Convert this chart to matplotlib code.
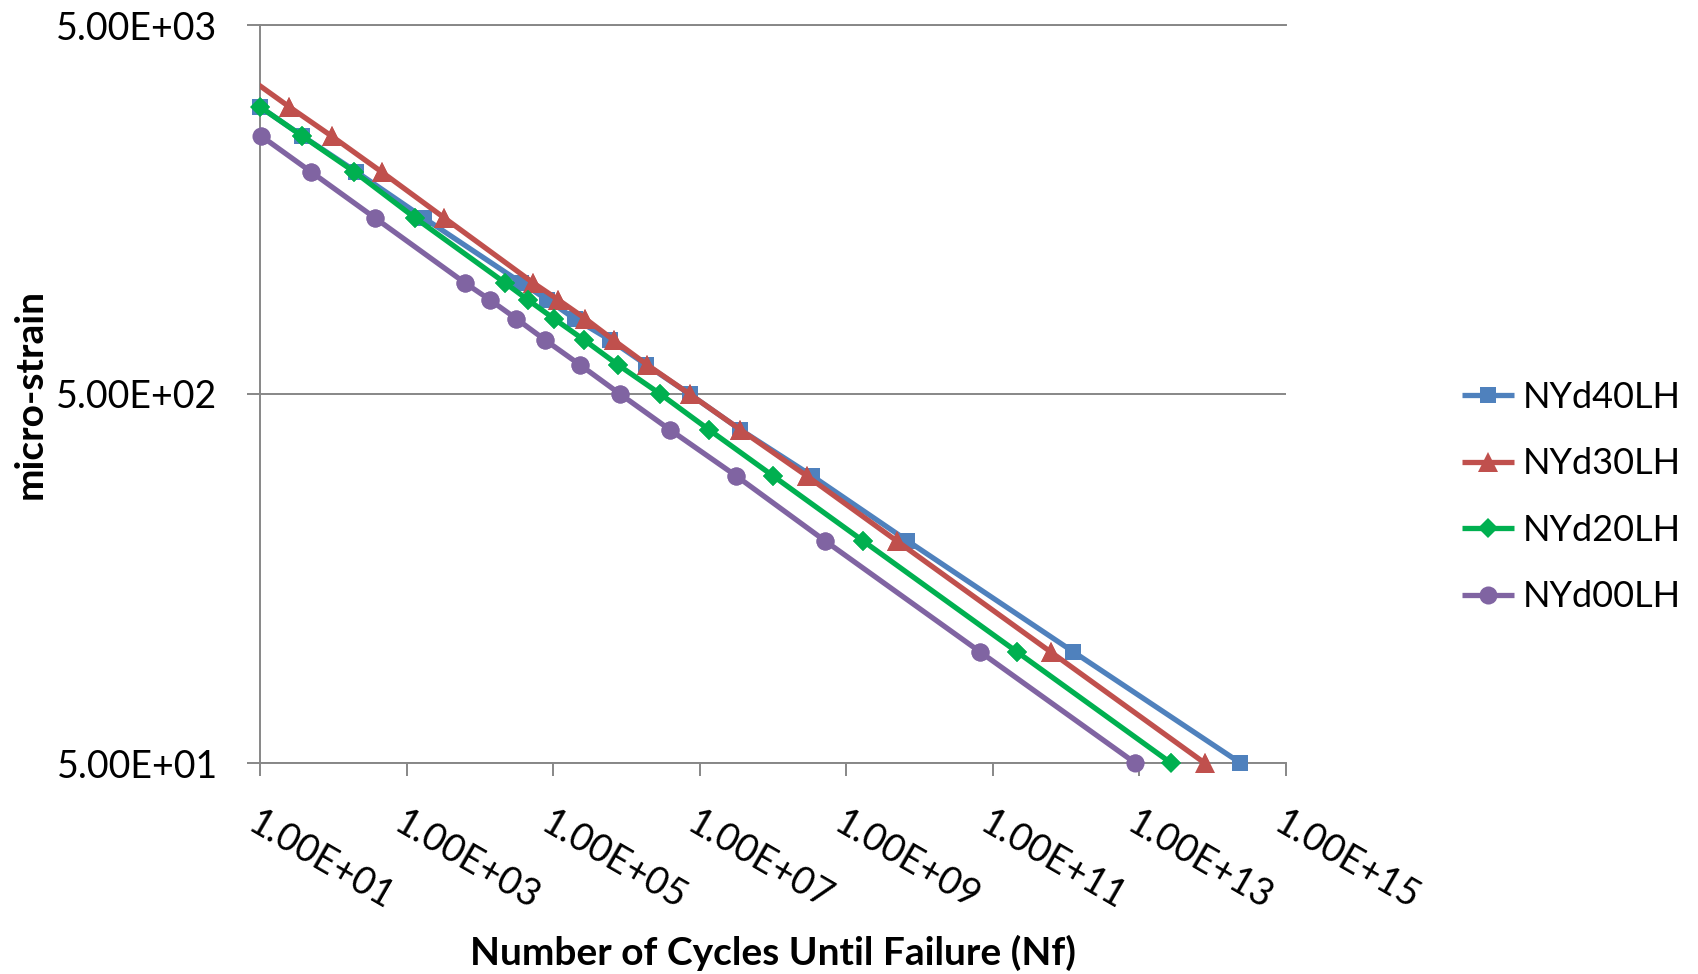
import matplotlib
matplotlib.use("Agg")
import matplotlib.pyplot as plt
from matplotlib.ticker import FixedLocator, FixedFormatter, NullLocator

plt.rcParams["font.family"] = ["Lato", "DejaVu Sans"]

# ---------------- data ----------------
series_names = ["NYd40LH", "NYd30LH", "NYd20LH", "NYd00LH"]

strain_40 = [3000, 2500, 2000, 1500, 1000, 900, 800, 700, 600, 500, 400, 300, 200, 100, 50]
nf_40 = [1.0e1, 3.8e1, 2.07e2, 1.72e3, 3.69e4, 8.36e4, 1.96e5, 6.03e5, 1.86e6, 7.26e6,
         3.60e7, 3.41e8, 6.84e9, 1.26e12, 2.39e14]

strain_30 = [3500, 3000, 2500, 2000, 1500, 1000, 900, 800, 700, 600, 500, 400, 300, 200, 100, 50]
nf_30 = [8.5, 2.51e1, 9.48e1, 4.55e2, 3.28e3, 5.36e4, 1.175e5, 2.75e5, 6.68e5, 1.92e6, 7.26e6,
         3.60e7, 2.88e8, 4.86e9, 6.15e11, 7.76e13]

strain_20 = [3000, 2500, 2000, 1500, 1000, 900, 800, 700, 600, 500, 400, 300, 200, 100, 50]
nf_20 = [1.0e1, 3.78e1, 1.94e2, 1.31e3, 2.21e4, 4.52e4, 1.026e5, 2.66e5, 7.66e5, 2.90e6,
         1.34e7, 1.0e8, 1.69e9, 2.14e11, 2.70e13]

strain_00 = [2500, 2000, 1500, 1000, 900, 800, 700, 600, 500, 400, 300, 200, 100, 50]
nf_00 = [1.04e1, 4.97e1, 3.71e2, 6.27e3, 1.37e4, 3.14e4, 7.80e4, 2.32e5, 8.18e5, 3.93e6,
         3.14e7, 5.13e8, 6.71e10, 8.77e12]

x_ticks = [1e1, 1e3, 1e5, 1e7, 1e9, 1e11, 1e13, 1e15]
x_tick_labels = ["1.00E+01", "1.00E+03", "1.00E+05", "1.00E+07",
                 "1.00E+09", "1.00E+11", "1.00E+13", "1.00E+15"]
y_ticks = [50, 500, 5000]
y_tick_labels = ["5.00E+01", "5.00E+02", "5.00E+03"]

# ---------------- styling ----------------
colors = ["#4F81BD", "#C0504D", "#00B050", "#8064A2"]
markers = ["s", "^", "D", "o"]
msizes = [11, 14, 10, 13]
grid_col = "#878787"

fig = plt.figure(figsize=(16.98, 9.74), dpi=100)
ax = fig.add_axes([260 / 1698, 211 / 974, 1026 / 1698, 738 / 974])
ax.set_xscale("log")
ax.set_yscale("log")
xmin, xmax = 1e1, 1e15
ax.set_xlim(xmin, xmax)
ax.set_ylim(50, 5000)

all_x = [nf_40, nf_30, nf_20, nf_00]
all_y = [strain_40, strain_30, strain_20, strain_00]
for i, (xs, ys) in enumerate(zip(all_x, all_y)):
    z = 3 + i * 2
    keep = [k for k, v in enumerate(xs) if v >= xmin * 0.999]
    ax.plot(xs, ys, color=colors[i], lw=3.8, marker=markers[i], ms=msizes[i],
            markeredgewidth=0, label=series_names[i], zorder=z,
            markevery=keep, solid_capstyle="butt")
    ax.plot([xs[k] for k in keep], [ys[k] for k in keep], linestyle="none",
            marker=markers[i], ms=msizes[i], color=colors[i], markeredgewidth=0,
            clip_on=False, zorder=z + 1)

# axes cosmetics
ax.spines["right"].set_visible(False)
for s in ["left", "bottom", "top"]:
    ax.spines[s].set_color(grid_col)
    ax.spines[s].set_linewidth(1.4)
ax.yaxis.grid(True, color=grid_col, lw=1.4)
ax.set_axisbelow(True)

ax.xaxis.set_major_locator(FixedLocator(x_ticks))
ax.xaxis.set_major_formatter(FixedFormatter(x_tick_labels))
ax.xaxis.set_minor_locator(NullLocator())
ax.yaxis.set_major_locator(FixedLocator(y_ticks))
ax.yaxis.set_major_formatter(FixedFormatter(y_tick_labels))
ax.yaxis.set_minor_locator(NullLocator())

ax.tick_params(axis="both", which="major", length=9.5, width=1.4, color=grid_col,
               direction="out", labelsize=27, labelcolor="black")
ax.tick_params(axis="x", pad=21)
ax.tick_params(axis="y", pad=21)
for lab in ax.get_xticklabels():
    lab.set_rotation(-30)
    lab.set_ha("left")
    lab.set_va("top")
    lab.set_rotation_mode("anchor")

ax.set_xlabel("Number of Cycles Until Failure (Nf)", fontsize=28, fontweight="bold")
ax.xaxis.label.set_va("center")
ax.xaxis.set_label_coords(0.5, -0.2575)
ax.set_ylabel("micro-strain", fontsize=28, fontweight="bold")
ax.yaxis.label.set_va("center")
ax.yaxis.set_label_coords(-0.2242, 0.5)

leg = fig.legend(loc="center left", bbox_to_anchor=(1462 / 1698, 1 - 497 / 974),
                 frameon=False, fontsize=26, handlelength=1.44, handletextpad=0.25,
                 labelspacing=0.93, borderpad=0, borderaxespad=0)

fig.savefig("out.png", dpi=100)
